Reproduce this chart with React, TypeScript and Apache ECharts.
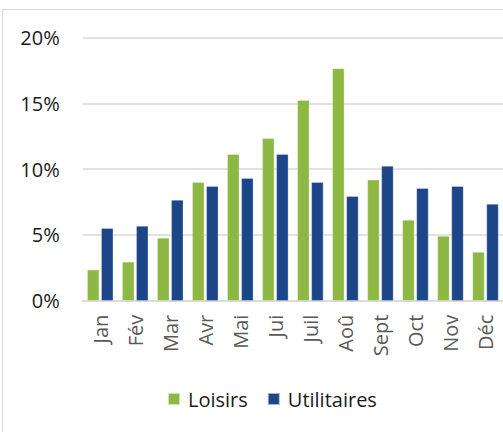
import React, { useEffect, useRef } from "react";
import * as echarts from "echarts";

const categories = ["Jan", "Fév", "Mar", "Avr", "Mai", "Jui", "Juil", "Aoû", "Sept", "Oct", "Nov", "Déc"];
const loisirs = [2.35, 2.95, 4.77, 9.0, 11.14, 12.35, 15.25, 17.66, 9.19, 6.14, 4.92, 3.7];
const utilitaires = [5.51, 5.68, 7.66, 8.71, 9.32, 11.14, 9.01, 7.94, 10.25, 8.55, 8.71, 7.36];
const seriesNames = ["Loisirs", "Utilitaires"];

export default function App() {
  const ref = useRef<HTMLDivElement>(null);
  useEffect(() => {
    if (!ref.current) return;
    const chart = echarts.init(ref.current, null, { renderer: "svg" });
    const font = "'Open Sans', sans-serif";
    chart.setOption({
      animation: false,
      backgroundColor: "#ffffff",
      graphic: [
        {
          type: "rect",
          shape: { x: 2.5, y: 9.5, width: 700, height: 600 },
          style: { fill: "none", stroke: "#D9D9D9", lineWidth: 1 },
          silent: true,
        },
      ],
      grid: { left: 82.7, top: 37.7, width: 424, height: 263, containLabel: false },
      legend: {
        data: seriesNames,
        left: 167,
        top: 389,
        padding: 0,
        itemWidth: 12,
        itemHeight: 12,
        itemGap: 19,
        icon: "rect",
        textStyle: { fontFamily: font, fontSize: 20, color: "#1a1a1a", padding: [0, 0, 0, 3] },
      },
      xAxis: {
        type: "category",
        data: categories,
        axisLine: { lineStyle: { color: "#D9D9D9", width: 1.5 } },
        axisTick: { show: false },
        axisLabel: {
          rotate: 90,
          margin: 14,
          fontFamily: font,
          fontSize: 20,
          color: "#595959",
        },
      },
      yAxis: {
        type: "value",
        min: 0,
        max: 20,
        interval: 5,
        axisLine: { show: false },
        axisTick: { show: false },
        splitLine: { lineStyle: { color: "#D9D9D9", width: 1.5 } },
        axisLabel: {
          formatter: "{value}%",
          margin: 23,
          fontFamily: font,
          fontSize: 20,
          color: "#1a1a1a",
        },
      },
      series: [
        {
          name: seriesNames[0],
          type: "bar",
          data: loisirs,
          barWidth: 12,
          barGap: "17%",
          itemStyle: { color: "#8DB843", borderColor: "rgba(255,255,255,0.6)", borderWidth: 0.5 },
        },
        {
          name: seriesNames[1],
          type: "bar",
          data: utilitaires,
          barWidth: 12,
          barGap: "17%",
          itemStyle: { color: "#1D4688", borderColor: "rgba(255,255,255,0.6)", borderWidth: 0.5 },
        },
      ],
    });
    return () => chart.dispose();
  }, []);
  return (
    <div
      ref={ref}
      style={{ position: "fixed", left: 0, top: 0, width: 503, height: 432 }}
    />
  );
}
